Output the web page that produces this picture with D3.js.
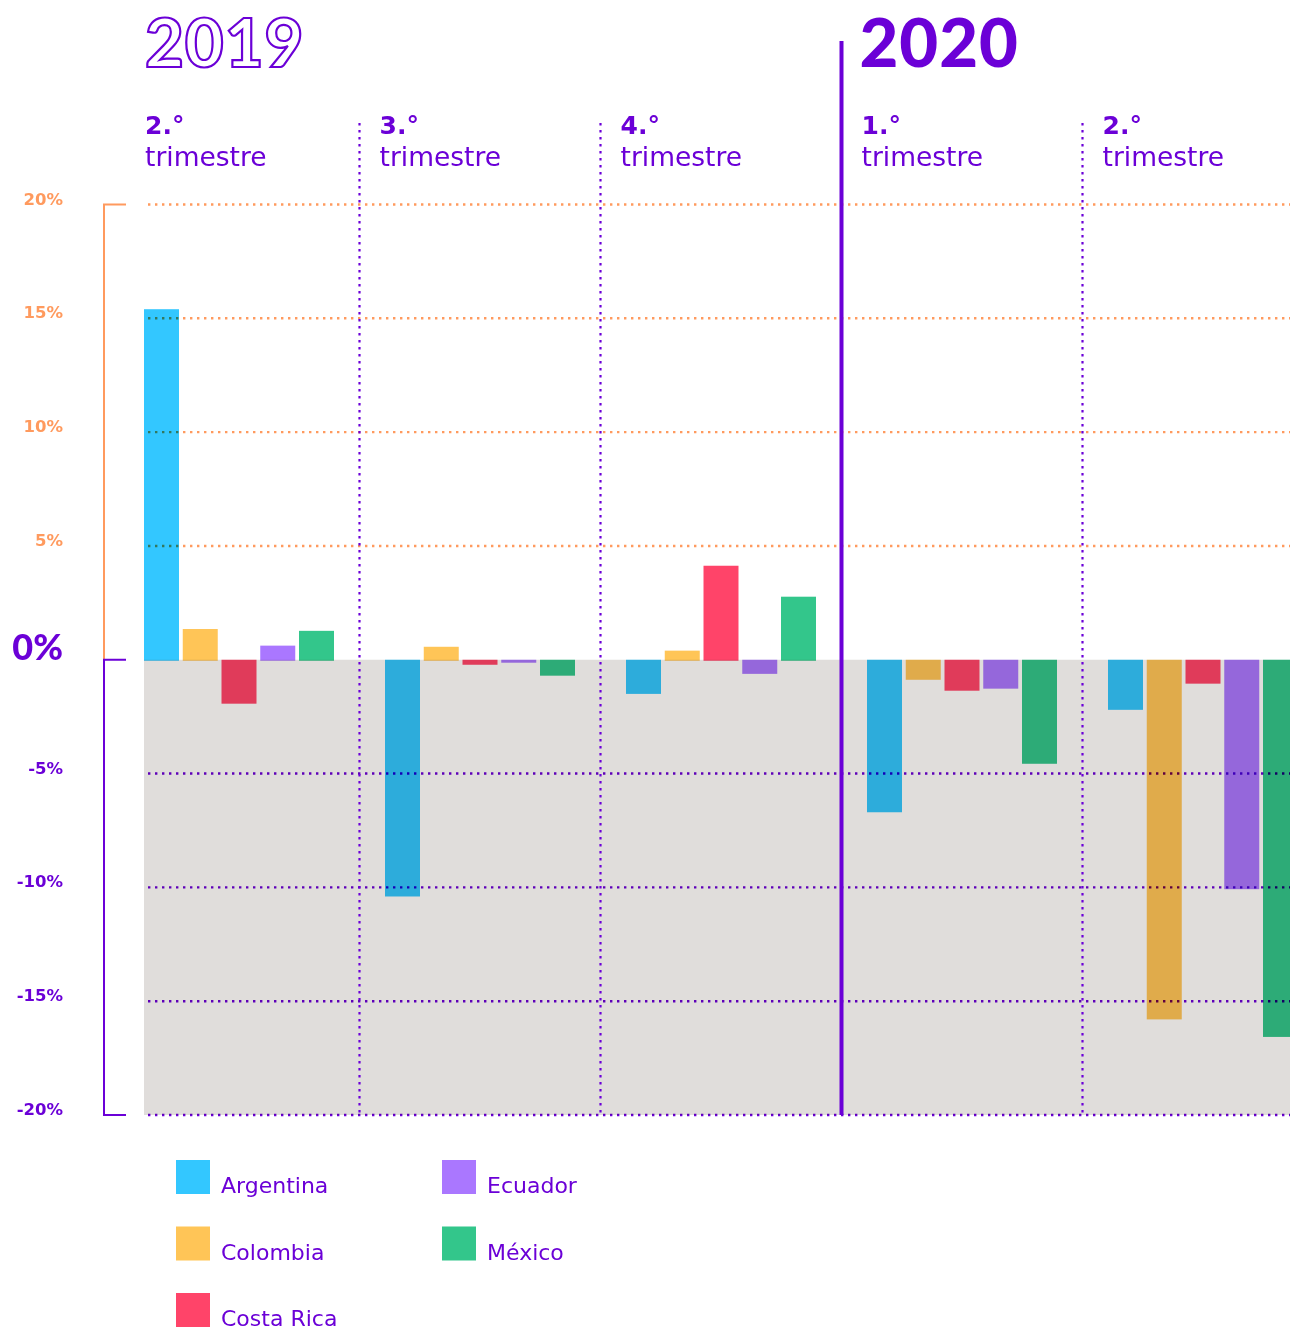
<!DOCTYPE html>
<html>
<head>
<meta charset="utf-8">
<script src="https://d3js.org/d3.v7.min.js"></script>
<style>
  body { margin: 0; background: #fff; }
  .blend { mix-blend-mode: multiply; }
</style>
</head>
<body>
<svg id="chart"></svg>
<script>
// data (% change per quarter)
const quarters = ["2019-Q2", "2019-Q3", "2019-Q4", "2020-Q1", "2020-Q2"];
const quarterNums = ["2.°", "3.°", "4.°", "1.°", "2.°"];
const countries = ["Argentina", "Colombia", "Costa Rica", "Ecuador", "México"];
const argentina = [15.4, -10.4, -1.5, -6.7, -2.2];
const colombia = [1.35, 0.57, 0.4, -0.88, -15.8];
const costaRica = [-1.93, -0.22, 4.13, -1.36, -1.05];
const ecuador = [0.62, -0.13, -0.62, -1.27, -10.08];
const mexico = [1.27, -0.7, 2.77, -4.57, -16.57];
const yTicks = [20, 15, 10, 5, -5, -10, -15, -20];
const years = [{ label: "2019", quarter: "2019-Q2" }, { label: "2020", quarter: "2020-Q1" }];

const seriesByCountry = {
  "Argentina": argentina,
  "Colombia": colombia,
  "Costa Rica": costaRica,
  "Ecuador": ecuador,
  "México": mexico,
};

const W = 1290;
const H = 1330;
const purple = "#6b00d7";
const orange = "#ff9a5e";
const gray = "#e0dddb";
const color = d3
  .scaleOrdinal()
  .domain(countries)
  .range(["#33c7ff", "#ffc557", "#ff4469", "#aa77ff", "#33c68b"]);

const svg = d3.select("#chart").attr("width", W).attr("height", H);

const x = d3.scaleBand().domain(quarters).range([118.5, 118.5 + 241 * quarters.length]);
const xi = d3.scaleBand().domain(countries).range([25.5, 215.5]).paddingInner(0.097);
const y = d3.scaleLinear().domain([-20, 20]).range([1115, 204.5]);

const plotLeft = x(quarters[0]) + xi.range()[0];

// grey negative zone
svg.append("rect")
  .attr("x", plotLeft)
  .attr("y", y(0))
  .attr("width", W - plotLeft)
  .attr("height", y(-20) - y(0))
  .attr("fill", gray);

// bars
const rows = [];
quarters.forEach((q, i) => {
  countries.forEach((c) => rows.push({ q, c, v: seriesByCountry[c][i] }));
});
svg.append("g")
  .selectAll("rect")
  .data(rows)
  .join("rect")
  .attr("class", "blend")
  .attr("x", (d) => x(d.q) + xi(d.c))
  .attr("width", xi.bandwidth())
  .attr("y", (d) => (d.v >= 0 ? y(d.v) : y(0)))
  .attr("height", (d) => Math.abs(y(d.v) - y(0)) + (d.v >= 0 ? 1 : 0))
  .attr("fill", (d) => color(d.c));

// dotted horizontal grid
svg.append("g")
  .selectAll("line")
  .data(yTicks)
  .join("line")
  .attr("class", "blend")
  .attr("x1", plotLeft + 4)
  .attr("x2", W)
  .attr("y1", (d) => y(d))
  .attr("y2", (d) => y(d))
  .attr("stroke", (d) => (d > 0 ? orange : purple))
  .attr("stroke-width", 2.4)
  .attr("stroke-dasharray", "2.4 4.6");

// quarter dividers
quarters.slice(1).forEach((q) => {
  const solid = q === "2020-Q1";
  svg.append("line")
    .attr("x1", x(q))
    .attr("x2", x(q))
    .attr("y1", solid ? 41 : 123)
    .attr("y2", y(-20))
    .attr("stroke", purple)
    .attr("stroke-width", solid ? 4 : 2.2)
    .attr("stroke-dasharray", solid ? null : "2.4 4.6");
});

// y axis brackets
svg.append("path")
  .attr("d", `M126,${y(20)}H104V${y(0)}`)
  .attr("fill", "none")
  .attr("stroke", orange)
  .attr("stroke-width", 2);
svg.append("path")
  .attr("d", `M126,${y(0)}H104V${y(-20)}H126`)
  .attr("fill", "none")
  .attr("stroke", purple)
  .attr("stroke-width", 2);

svg.append("g")
  .selectAll("text")
  .data(yTicks)
  .join("text")
  .attr("x", 63)
  .attr("y", (d) => y(d))
  .attr("text-anchor", "end")
  .attr("font-family", "DejaVu Sans")
  .attr("font-weight", "bold")
  .attr("font-size", 16.5)
  .attr("fill", (d) => (d > 0 ? orange : purple))
  .text((d) => d + "%");
svg.append("text")
  .attr("x", 63)
  .attr("y", y(0))
  .attr("text-anchor", "end")
  .attr("font-family", "Lato")
  .attr("font-weight", 900)
  .attr("font-size", 36)
  .attr("fill", purple)
  .text("0%");

// year titles
years.forEach((yr, i) => {
  svg.append("text")
    .attr("x", i === 0 ? 145 : x(yr.quarter) + 18)
    .attr("y", 67)
    .attr("font-family", "Lato")
    .attr("font-weight", 900)
    .attr("font-size", 67)
    .attr("letter-spacing", 1)
    .attr("fill", i === 0 ? "#fff" : purple)
    .attr("stroke", i === 0 ? purple : "none")
    .attr("stroke-width", 2.2)
    .text(yr.label);
});

// quarter labels
quarters.forEach((q, i) => {
  const lx = i === 0 ? 145 : x(q) + 20;
  const t = svg.append("text")
    .attr("font-family", "DejaVu Sans")
    .attr("fill", purple);
  t.append("tspan")
    .attr("x", lx)
    .attr("y", 134)
    .attr("font-weight", "bold")
    .attr("font-size", 25)
    .text(quarterNums[i]);
  t.append("tspan")
    .attr("x", lx)
    .attr("y", 166)
    .attr("font-size", 26.5)
    .text("trimestre");
});

// legend
const legend = svg.append("g")
  .selectAll("g")
  .data(countries)
  .join("g")
  .attr("transform", (d, i) => `translate(${i < 3 ? 176 : 442},${1160 + (i % 3) * 66.5})`);
legend.append("rect")
  .attr("width", 34)
  .attr("height", 34)
  .attr("fill", (d) => color(d));
legend.append("text")
  .attr("x", 45)
  .attr("y", 33)
  .attr("font-family", "DejaVu Sans")
  .attr("font-size", 22)
  .attr("fill", purple)
  .text((d) => d);
</script>
</body>
</html>
